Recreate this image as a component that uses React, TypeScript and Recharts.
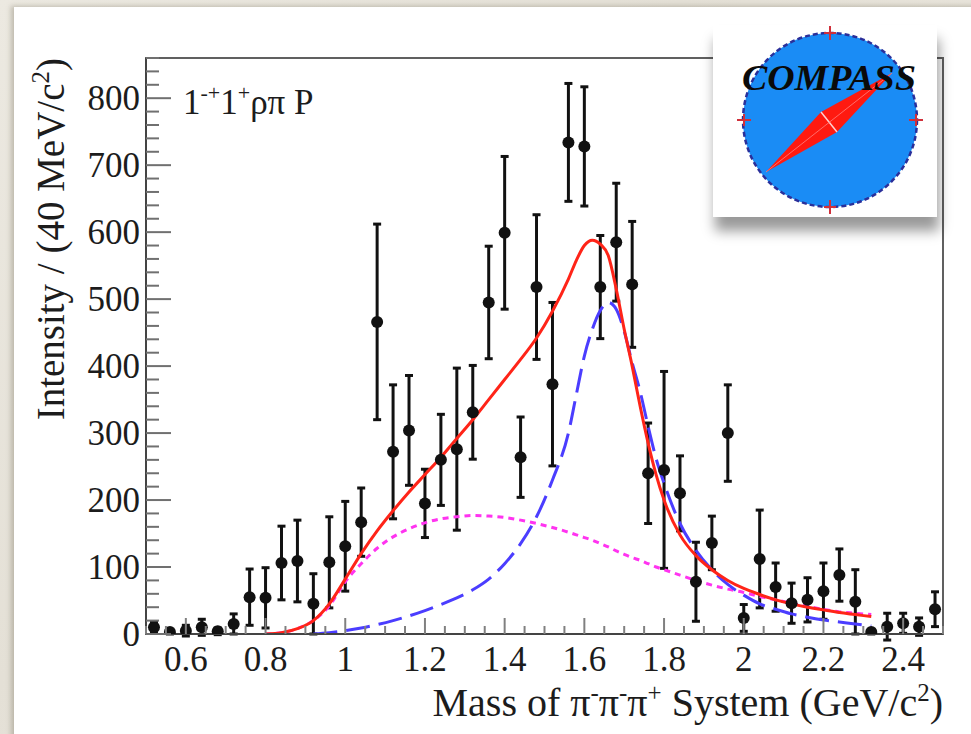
import React from 'react';
import { ComposedChart, XAxis, YAxis, Scatter, Line, ErrorBar, ReferenceArea } from 'recharts';

// ---- data points (40 MeV bins) ----
const massBins = [
  0.52, 0.56, 0.60, 0.64, 0.68, 0.72, 0.76, 0.80, 0.84, 0.88,
  0.92, 0.96, 1.00, 1.04, 1.08, 1.12, 1.16, 1.20, 1.24, 1.28,
  1.32, 1.36, 1.40, 1.44, 1.48, 1.52, 1.56, 1.60, 1.64, 1.68,
  1.72, 1.76, 1.80, 1.84, 1.88, 1.92, 1.96, 2.00, 2.04, 2.08,
  2.12, 2.16, 2.20, 2.24, 2.28, 2.32, 2.36, 2.40, 2.44, 2.48,
];
const intensity = [
  10, 3, 5, 10, 4, 15, 55, 54, 106, 109,
  45, 107, 131, 167, 466, 272, 304, 195, 260, 276,
  331, 495, 599, 264, 518, 373, 734, 728, 518, 585,
  522, 240, 245, 210, 78, 136, 300, 24, 112, 70,
  46, 51, 64, 88, 48, 3, 11, 16, 11, 37,
];
const intensityErr = [
  8, 3, 8, 12, 5, 15, 42, 45, 55, 61,
  45, 68, 67, 51, 146, 100, 82, 51, 68, 121,
  70, 84, 114, 60, 108, 122, 88, 89, 77, 88,
  94, 75, 147, 56, 59, 40, 72, 20, 73, 36,
  30, 33, 42, 39, 48, 3, 20, 15, 13, 26,
];

// ---- fit curves ----
const curveMass = [
  0.80, 0.84, 0.88, 0.92, 0.96, 1.00, 1.04, 1.08, 1.12, 1.16,
  1.20, 1.24, 1.28, 1.32, 1.36, 1.40, 1.44, 1.48, 1.52, 1.56,
  1.58, 1.60, 1.62, 1.64, 1.66, 1.68, 1.70, 1.72, 1.74, 1.76,
  1.78, 1.80, 1.84, 1.88, 1.92, 1.96, 2.00, 2.04, 2.08, 2.12,
  2.16, 2.20, 2.24, 2.28, 2.32,
];
const totalFit = [
  0, 2, 8, 20, 45, 82, 120, 154, 184, 212,
  238, 264, 292, 320, 350, 380, 410, 442, 482, 530,
  558, 580, 588, 582, 565, 515, 455, 400, 340, 285,
  238, 200, 148, 117, 96, 80, 68, 59, 51, 45,
  40, 36, 32, 29, 26,
];
const bwFit = [
  null, null, null, 0, 2, 5, 9, 14, 20, 27,
  35, 44, 54, 66, 82, 105, 135, 175, 230, 300,
  358, 415, 455, 483, 495, 485, 452, 405, 362, 310,
  262, 225, 165, 125, 96, 74, 58, 45, 37, 30,
  25, 21, 18, 15, 12,
];
const bgFit = [
  0, 2, 8, 20, 42, 78, 105, 128, 145, 157,
  166, 172, 175, 177, 176, 174, 170, 165, 159, 152,
  148, 144, 140, 135, 130, 124, 119, 114, 110, 105,
  100, 96, 88, 80, 73, 67, 62, 56, 51, 46,
  41, 37, 33, 31, 29,
];

// ---- axes ----
const xTicks = [
  0.5, 0.55, 0.6, 0.65, 0.7, 0.75, 0.8, 0.85, 0.9, 0.95,
  1.0, 1.05, 1.1, 1.15, 1.2, 1.25, 1.3, 1.35, 1.4, 1.45,
  1.5, 1.55, 1.6, 1.65, 1.7, 1.75, 1.8, 1.85, 1.9, 1.95,
  2.0, 2.05, 2.1, 2.15, 2.2, 2.25, 2.3, 2.35, 2.4, 2.45, 2.5,
];
const xLabelTicks = [0.6, 0.8, 1.0, 1.2, 1.4, 1.6, 1.8, 2.0, 2.2, 2.4];
const yTicks = [
  0, 20, 40, 60, 80, 100, 120, 140, 160, 180, 200, 220, 240, 260, 280,
  300, 320, 340, 360, 380, 400, 420, 440, 460, 480, 500, 520, 540, 560, 580,
  600, 620, 640, 660, 680, 700, 720, 740, 760, 780, 800, 820, 840, 860,
];
const yLabelTicks = [0, 100, 200, 300, 400, 500, 600, 700, 800];

const points = massBins.map((m, i) => ({ m, v: intensity[i], err: intensityErr[i] }));
const totalData = curveMass.map((m, i) => ({ m, v: totalFit[i] }));
const bwData = curveMass.map((m, i) => ({ m, v: bwFit[i] }));
const bgData = curveMass.map((m, i) => ({ m, v: bgFit[i] }));

const FONT = '"Liberation Serif", "Times New Roman", serif';
const TXT = '#1c1c1c';

const fmtX = (v: number) => (Math.abs(v - Math.round(v)) < 1e-6 ? String(Math.round(v)) : v.toFixed(1));

const YTick = (props: any) => {
  const { x, y, payload } = props;
  const v = payload.value;
  const major = yLabelTicks.includes(v);
  return (
    <g>
      <line x1={x} x2={x + (major ? 25 : 13)} y1={y} y2={y} stroke="#707070" strokeWidth={2} />
      {major && (
        <text x={x - 6} y={y + 12} textAnchor="end" fontFamily={FONT} fontSize={35} fill={TXT}>
          {v}
        </text>
      )}
    </g>
  );
};

const XTick = (props: any) => {
  const { x, y, payload } = props;
  const v = payload.value;
  const major = xLabelTicks.some((t) => Math.abs(t - v) < 1e-6);
  return (
    <g>
      <line x1={x} x2={x} y1={y} y2={y - (major ? 16 : 8)} stroke="#808080" strokeWidth={2} />
      {major && (
        <text x={x} y={y + 37} textAnchor="middle" fontFamily={FONT} fontSize={35} fill={TXT}>
          {fmtX(v)}
        </text>
      )}
    </g>
  );
};

const Dot = (p: any) => <circle cx={p.cx} cy={p.cy} r={6} fill="#111" />;

export default function App() {
  return (
    <div
      style={{
        position: 'absolute',
        left: 0,
        top: 0,
        width: 971,
        height: 734,
        overflow: 'hidden',
        background: 'linear-gradient(135deg, #ece9e1 0%, #e4e0d6 40%, #ebe7de 70%, #e2ded3 100%)',
      }}
    >
      <div
        style={{
          position: 'absolute',
          left: 14,
          top: 7,
          width: 980,
          height: 760,
          background: '#ffffff',
          boxShadow: '-3px -1px 5px rgba(110,100,80,0.35)',
        }}
      />
      <div style={{ position: 'absolute', left: 0, top: 0 }}>
        <ComposedChart width={971} height={734} margin={{ top: 58, right: 28, bottom: 40, left: 46 }}>
          <XAxis
            type="number"
            dataKey="m"
            domain={[0.5, 2.5]}
            ticks={xTicks}
            interval={0}
            height={60}
            tickSize={0}
            tickMargin={0}
            tickLine={false}
            axisLine={{ stroke: '#444', strokeWidth: 2 }}
            tick={<XTick />}
            allowDataOverflow
          />
          <YAxis
            type="number"
            domain={[0, 860]}
            ticks={yTicks}
            interval={0}
            width={100}
            tickSize={0}
            tickMargin={0}
            tickLine={false}
            axisLine={{ stroke: '#444', strokeWidth: 2 }}
            tick={<YTick />}
            allowDataOverflow
          />
          <ReferenceArea x1={0.5} x2={2.5} y1={0} y2={860} fill="none" stroke="#606060" strokeWidth={2} />
          <Scatter data={points} dataKey="v" shape={Dot} isAnimationActive={false}>
            <ErrorBar dataKey="err" direction="y" width={4} stroke="#111" strokeWidth={3} isAnimationActive={false} />
          </Scatter>
          <Line
            data={bgData}
            dataKey="v"
            type="monotone"
            stroke="#ff33f0"
            strokeWidth={3}
            strokeDasharray="6 5"
            dot={false}
            isAnimationActive={false}
          />
          <Line
            data={bwData}
            dataKey="v"
            type="monotone"
            stroke="#4b3dff"
            strokeWidth={3}
            strokeDasharray="24 9"
            dot={false}
            isAnimationActive={false}
          />
          <Line
            data={totalData}
            dataKey="v"
            type="monotone"
            stroke="#ff2418"
            strokeWidth={3}
            dot={false}
            isAnimationActive={false}
          />
        </ComposedChart>
      </div>
      {/* logo box */}
      <div
        style={{
          position: 'absolute',
          left: 713,
          top: 25,
          width: 224,
          height: 192,
          background: '#ffffff',
          boxShadow: '2px 14px 12px rgba(0,0,0,0.4)',
        }}
      />
      <svg width={971} height={734} style={{ position: 'absolute', left: 0, top: 0 }}>
        <text x={183} y={114} fontFamily={FONT} fontSize={35} fill={TXT}>
          1<tspan fontSize={22} dy={-14}>-+</tspan>
          <tspan dy={14}>1</tspan>
          <tspan fontSize={22} dy={-14}>+</tspan>
          <tspan dy={14}>ρπ P</tspan>
        </text>
        <text
          x={64}
          y={58}
          transform="rotate(-90 64 58)"
          textAnchor="end"
          fontFamily={FONT}
          fontSize={39}
          fill={TXT}
        >
          Intensity / (40 MeV/c<tspan fontSize={25} dy={-15}>2</tspan>
          <tspan dy={15}>)</tspan>
        </text>
        <text x={943} y={716} textAnchor="end" fontFamily={FONT} fontSize={40} fill={TXT}>
          Mass of π<tspan fontSize={25} dy={-15}>-</tspan>
          <tspan dy={15}>π</tspan>
          <tspan fontSize={25} dy={-15}>-</tspan>
          <tspan dy={15}>π</tspan>
          <tspan fontSize={25} dy={-15}>+</tspan>
          <tspan dy={15}> System (GeV/c</tspan>
          <tspan fontSize={25} dy={-15}>2</tspan>
          <tspan dy={15}>)</tspan>
        </text>
        {/* COMPASS logo */}
        <circle cx={830} cy={120} r={87} fill="#1a8cf5" stroke="#2a2f9a" strokeWidth={2.5} strokeDasharray="5 3" />
        <g stroke="#d0303a" strokeWidth={2}>
          <line x1={830} y1={26} x2={830} y2={40} />
          <line x1={824} y1={33} x2={836} y2={33} />
          <line x1={830} y1={200} x2={830} y2={214} />
          <line x1={824} y1={207} x2={836} y2={207} />
          <line x1={737} y1={120} x2={751} y2={120} />
          <line x1={744} y1={114} x2={744} y2={126} />
          <line x1={909} y1={120} x2={923} y2={120} />
          <line x1={916} y1={114} x2={916} y2={126} />
        </g>
        <polygon points="766,172 821,112 892,73 837,132" fill="#ff1a10" />
        <line x1={821} y1={112} x2={837} y2={132} stroke="#ffd0d0" strokeWidth={1.5} />
        <line x1={766} y1={172} x2={892} y2={73} stroke="#ff8080" strokeWidth={0.8} />
        <text
          x={742}
          y={90}
          fontFamily={FONT}
          fontSize={36}
          fontWeight="bold"
          fontStyle="italic"
          fill="#0a0a0a"
          textLength={174}
          lengthAdjust="spacingAndGlyphs"
        >
          COMPASS
        </text>
      </svg>
    </div>
  );
}
